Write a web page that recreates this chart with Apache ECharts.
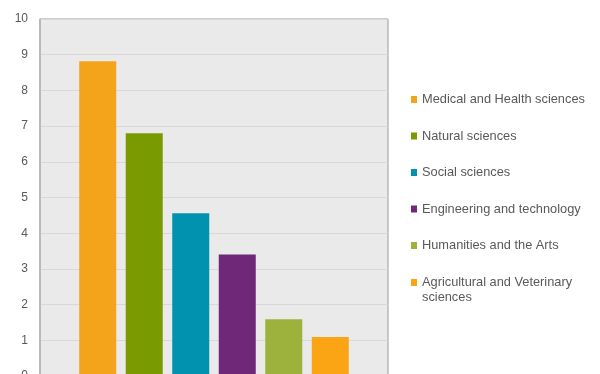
<!DOCTYPE html>
<html>
<head>
<meta charset="utf-8">
<script src="https://cdn.jsdelivr.net/npm/echarts@6/dist/echarts.min.js"></script>
<style>html,body{margin:0;padding:0;background:#fff}#c{width:600px;height:374px}</style>
</head>
<body>
<div id="c"></div>
<script>
var seriesNames = ['Medical and Health sciences', 'Natural sciences', 'Social sciences', 'Engineering and technology', 'Humanities and the Arts', 'Agricultural and Veterinary sciences'];
var seriesValues = [8.82, 6.80, 4.56, 3.40, 1.59, 1.09];
var seriesColors = ['#f4a41b', '#7a9a01', '#0092ae', '#6f2878', '#9cb23c', '#fba414'];
var categories = [''];
var yTicks = [0, 1, 2, 3, 4, 5, 6, 7, 8, 9, 10];

var chart = echarts.init(document.getElementById('c'));
var font = 'Liberation Sans, Arial, sans-serif';
var series = seriesNames.map(function (n, i) {
  return {
    name: n, type: 'bar', data: [seriesValues[i]],
    barWidth: 37, barGap: '25.7%',
    itemStyle: { color: seriesColors[i] }
  };
});
var legendText = { fontFamily: font, fontSize: 12.8, color: '#595959', lineHeight: 14 };
chart.setOption({
  animation: false,
  grid: { left: 40, right: 212, top: 19, height: 357, outerBoundsMode: 'none', containLabel: false, show: true, backgroundColor: '#eaeaea', borderColor: '#9a9a9a', borderWidth: 1 },
  xAxis: { type: 'category', data: categories, axisLine: { show: false }, axisTick: { show: false }, axisLabel: { show: false } },
  yAxis: {
    type: 'value', min: yTicks[0], max: yTicks[yTicks.length - 1], interval: 1,
    axisLine: { show: true, lineStyle: { color: '#b4b4b4', width: 1.5 } },
    axisTick: { show: false },
    axisLabel: { margin: 12, fontFamily: font, fontSize: 12, color: '#595959' },
    splitLine: { lineStyle: { color: '#d8d8d8', width: 1 } }
  },
  legend: [{
    orient: 'vertical', left: 411, top: 92.5, padding: 0, itemGap: 22.5,
    itemWidth: 6, itemHeight: 7, icon: 'rect',
    data: seriesNames.slice(0, 5),
    textStyle: legendText
  }, {
    orient: 'vertical', left: 411, top: 260, padding: 0,
    itemWidth: 6, itemHeight: 7, icon: 'rect',
    data: seriesNames.slice(5),
    formatter: function (n) { return '\nAgricultural and Veterinary\nsciences'; },
    textStyle: { fontFamily: font, fontSize: 12.8, color: '#595959', lineHeight: 15 }
  }],
  series: series
});
</script>
</body>
</html>
